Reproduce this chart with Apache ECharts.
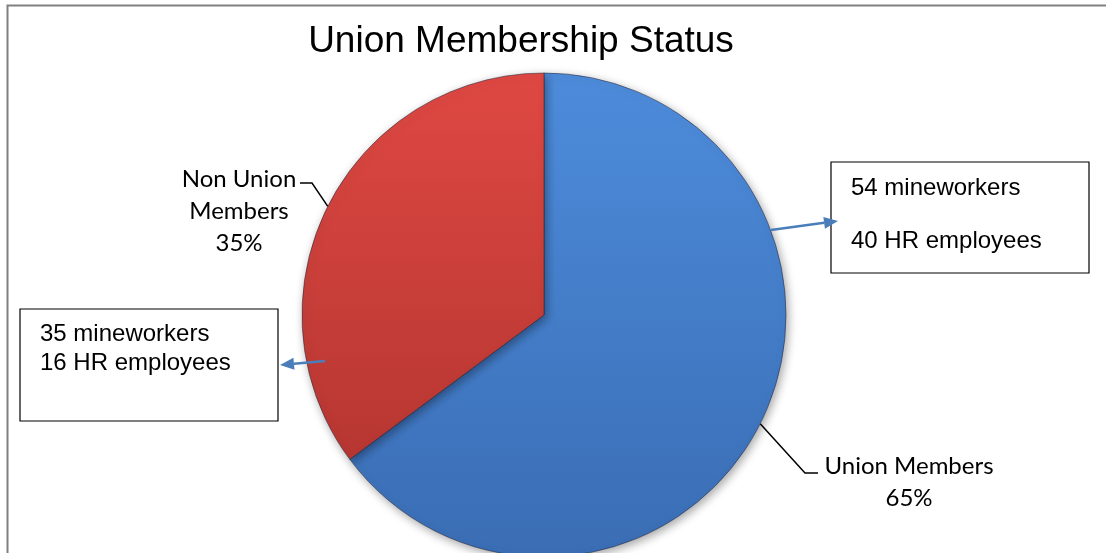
<!DOCTYPE html>
<html>
<head>
<meta charset="utf-8">
<script src="https://cdn.jsdelivr.net/npm/echarts@6/dist/echarts.min.js"></script>
<style>
  html, body { margin: 0; padding: 0; background: #ffffff; }
  #chart { width: 1106px; height: 553px; }
</style>
</head>
<body>
<div id="chart"></div>
<script>
// Membership groups and their head counts
const categories = ['Union Members', 'Non Union Members'];
const mineworkers = [54, 35];
const hrEmployees = [40, 16];
const sliceColors = [
  ['#4d8cdb', '#3a6db4'],
  ['#df4843', '#ad322d']
];

const totals = categories.map((_, i) => mineworkers[i] + hrEmployees[i]);

const chart = echarts.init(document.getElementById('chart'), null, { renderer: 'canvas' });

const CX = 544, CY = 315, R = 242;

function vGrad(c) {
  return {
    type: 'linear', global: true,
    x: 0, y: CY - R, x2: 0, y2: CY + R,
    colorStops: [{ offset: 0, color: c[0] }, { offset: 1, color: c[1] }]
  };
}

// label placement for each slice: text block centre and the bend of its leader
const labelSpots = [
  { x: 909, y: 482, bend: [805, 473], end: [818, 473] },
  { x: 239, y: 211, bend: [312, 183], end: [300, 183] }
];

function arrow(x1, y1, x2, y2) {
  const ang = Math.atan2(y2 - y1, x2 - x1);
  const L = 14, W = 6;
  const bx = x2 - L * Math.cos(ang), by = y2 - L * Math.sin(ang);
  const nx = -Math.sin(ang), ny = Math.cos(ang);
  return [
    { type: 'line', shape: { x1: x1, y1: y1, x2: bx, y2: by },
      style: { stroke: '#4a7ebb', lineWidth: 2.5 }, z: 20 },
    { type: 'polygon',
      shape: { points: [[x2, y2], [bx + nx * W, by + ny * W], [bx - nx * W, by - ny * W]] },
      style: { fill: '#4a7ebb' }, z: 20 }
  ];
}

function noteBox(x, y, w, h, lines, textX, lineYs) {
  const els = [
    { type: 'rect', shape: { x: x, y: y, width: w, height: h },
      style: { fill: '#ffffff', stroke: '#000000', lineWidth: 1.2 }, z: 15 }
  ];
  lines.forEach((t, i) => {
    els.push({ type: 'text', x: textX, y: lineYs[i],
      style: { text: t, fill: '#000000', font: '24px "Liberation Sans", Arial, sans-serif',
               textVerticalAlign: 'middle', textAlign: 'left' }, z: 16 });
  });
  return els;
}

const option = {
  backgroundColor: '#ffffff',
  animation: false,
  title: {
    text: 'Union Membership Status',
    left: 516, top: 18, textAlign: 'center',
    textStyle: { fontFamily: '"Liberation Sans", Arial, sans-serif', fontSize: 37, fontWeight: 'normal', color: '#000000' }
  },
  graphic: [
    { type: 'rect', shape: { x: 7.5, y: 5.5, width: 1200, height: 700 },
      style: { fill: 'none', stroke: '#808080', lineWidth: 2 }, z: 1 },
    ...noteBox(831, 162, 258, 111,
      [mineworkers[0] + ' mineworkers', hrEmployees[0] + ' HR employees'], 851, [188, 241]),
    ...noteBox(20, 309, 258, 112,
      [mineworkers[1] + ' mineworkers', hrEmployees[1] + ' HR employees'], 40, [334, 363]),
    ...arrow(771, 230, 838, 221),
    ...arrow(325, 361, 280, 365)
  ],
  series: [{
    type: 'pie',
    center: [CX, CY],
    radius: R,
    startAngle: 90,
    clockwise: true,
    percentPrecision: 0,
    data: categories.map((name, i) => ({
      name: name,
      value: totals[i],
      itemStyle: { color: vGrad(sliceColors[i]) }
    })),
    itemStyle: {
      borderColor: 'rgba(40,40,60,0.55)', borderWidth: 1,
      shadowBlur: 10, shadowColor: 'rgba(0,0,0,0.35)', shadowOffsetX: 2, shadowOffsetY: 3
    },
    label: {
      show: true,
      position: 'outside',
      formatter: p => p.name.replace(/^Non Union /, 'Non Union\n') + '\n' + p.percent + '%',
      fontFamily: 'Lato, "Open Sans", sans-serif',
      fontSize: 24,
      lineHeight: 32,
      color: '#000000',
      align: 'center'
    },
    labelLine: {
      show: true,
      lineStyle: { color: '#000000', width: 1.5 }
    },
    labelLayout: function (params) {
      const s = labelSpots[params.dataIndex];
      const p0 = params.labelLinePoints ? params.labelLinePoints[0] : s.bend;
      return {
        x: s.x, y: s.y,
        align: 'center', verticalAlign: 'middle',
        labelLinePoints: [p0, s.bend, s.end]
      };
    },
    emphasis: { disabled: true }
  }]
};

chart.setOption(option);
</script>
</body>
</html>
